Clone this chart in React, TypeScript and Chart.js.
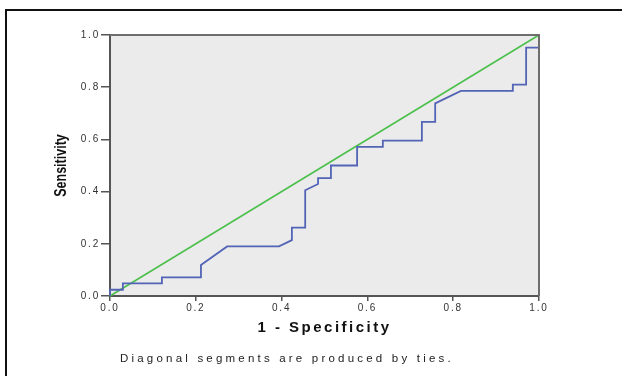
import React, { useEffect, useRef } from "react";
import { Chart, registerables } from "chart.js";

Chart.register(...registerables);

// ROC curve: 1 - specificity (x) and sensitivity (y)
const fpr = [0, 0, 0.03, 0.03, 0.121, 0.121, 0.212, 0.212, 0.273, 0.394, 0.424, 0.424, 0.455, 0.455, 0.485, 0.485, 0.515, 0.515, 0.576, 0.576, 0.636, 0.636, 0.727, 0.727, 0.758, 0.758, 0.818, 0.939, 0.939, 0.97, 0.97, 1, 1];
const tpr = [0, 0.024, 0.024, 0.048, 0.048, 0.071, 0.071, 0.119, 0.19, 0.19, 0.214, 0.262, 0.262, 0.405, 0.429, 0.452, 0.452, 0.5, 0.5, 0.571, 0.571, 0.595, 0.595, 0.667, 0.667, 0.738, 0.786, 0.786, 0.81, 0.81, 0.952, 0.952, 1];

// reference diagonal
const refX = [0, 1];
const refY = [0, 1];

const tickValues = [0, 0.2, 0.4, 0.6, 0.8, 1.0];
const tickLabels = ["0.0", "0.2", "0.4", "0.6", "0.8", "1.0"];

const xTitle = "1 - Specificity";
const yTitle = "Sensitivity";
const note = "Diagonal segments are produced by ties.";

const SPACING = "2.5px";
const LABEL_SPACING = "1.8px";

function patchScale(s: any, isY: boolean) {
  if (s.__patched) return;
  s.__patched = true;
  const origLabels = s.drawLabels;
  s.drawLabels = function (...args: any[]) {
    this.ctx.save();
    this.ctx.letterSpacing = LABEL_SPACING;
    origLabels.apply(this, args);
    this.ctx.restore();
  };
  if (isY) {
    const origTitle = s.drawTitle;
    s.drawTitle = function (...args: any[]) {
      const ctx = this.ctx;
      const cx = 62;
      ctx.save();
      ctx.letterSpacing = "0px";
      ctx.translate(cx, 0);
      ctx.scale(1.3, 1);
      ctx.translate(-cx, 0);
      origTitle.apply(this, args);
      ctx.restore();
    };
  }
}

const framePlugin = {
  id: "spssFrame",
  beforeUpdate(chart: any) {
    chart.ctx.letterSpacing = SPACING;
  },
  beforeDraw(chart: any) {
    const { ctx, chartArea } = chart;
    ctx.letterSpacing = SPACING;
    ctx.save();
    ctx.fillStyle = "#ebebeb";
    ctx.fillRect(chartArea.left, chartArea.top, chartArea.right - chartArea.left, chartArea.bottom - chartArea.top);
    ctx.restore();
  },
  afterDatasetsDraw(chart: any) {
    const { ctx, chartArea } = chart;
    ctx.save();
    ctx.strokeStyle = "#6e6e6e";
    ctx.lineWidth = 2;
    ctx.beginPath();
    ctx.moveTo(chartArea.left, chartArea.top);
    ctx.lineTo(chartArea.right, chartArea.top);
    ctx.lineTo(chartArea.right, chartArea.bottom);
    ctx.stroke();
    ctx.restore();
  },
};

export default function App() {
  const ref = useRef<HTMLCanvasElement | null>(null);

  useEffect(() => {
    if (!ref.current) return;
    const tickFont = { family: "'Liberation Sans', Arial, sans-serif", size: 10 };
    const chart = new Chart(ref.current, {
      type: "line",
      data: {
        datasets: [
          {
            label: "ROC",
            data: fpr.map((x, i) => ({ x, y: tpr[i] })),
            borderColor: "#5364b6",
            borderWidth: 1.8,
            pointRadius: 0,
            tension: 0,
            fill: false,
            clip: 4,
          },
          {
            label: "Reference",
            data: refX.map((x, i) => ({ x, y: refY[i] })),
            borderColor: "#4cc04c",
            borderWidth: 1.6,
            pointRadius: 0,
            tension: 0,
            fill: false,
            clip: 4,
          },
        ],
      },
      options: {
        animation: false,
        responsive: false,
        layout: { padding: { left: 50, top: 35, right: 83, bottom: 39 } },
        plugins: { legend: { display: false }, tooltip: { enabled: false } },
        scales: {
          x: {
            type: "linear",
            min: 0,
            max: 1,
            afterBuildTicks: (s: any) => {
              s.ticks = tickValues.map((v) => ({ value: v }));
            },
            afterFit: (s: any) => {
              s.height = 41;
              patchScale(s, false);
            },
            ticks: {
              autoSkip: false,
              maxRotation: 0,
              padding: 1,
              color: "#333",
              font: tickFont,
              callback: (_v: any, i: number) => tickLabels[i],
            },
            grid: { drawOnChartArea: false, drawTicks: true, tickLength: 5, color: "#555", lineWidth: 1.5 },
            border: { color: "#555", width: 2 },
            title: {
              display: true,
              text: xTitle,
              color: "#111",
              font: { family: "'Liberation Sans', Arial, sans-serif", size: 15, weight: "bold" },
              padding: { top: 0, bottom: 0 },
            },
          },
          y: {
            type: "linear",
            min: 0,
            max: 1,
            afterBuildTicks: (s: any) => {
              s.ticks = tickValues.map((v) => ({ value: v }));
            },
            afterFit: (s: any) => {
              s.width = 60;
              patchScale(s, true);
            },
            ticks: {
              autoSkip: false,
              padding: 1,
              color: "#333",
              font: tickFont,
              callback: (_v: any, i: number) => tickLabels[i],
            },
            grid: { drawOnChartArea: false, drawTicks: true, tickLength: 9, color: "#555", lineWidth: 1.5 },
            border: { color: "#555", width: 2 },
            title: {
              display: true,
              text: yTitle,
              color: "#111",
              font: { family: "'Liberation Sans', Arial, sans-serif", size: 12.5, weight: "bold" },
              padding: { top: 4, bottom: 0 },
            },
          },
        },
      },
      plugins: [framePlugin],
    } as any);
    return () => chart.destroy();
  }, []);

  return (
    <div style={{ position: "absolute", left: 0, top: 0, width: 622, height: 376, background: "#fff", overflow: "hidden" }}>
      <div
        style={{
          position: "absolute",
          left: 5,
          top: 9,
          width: 640,
          height: 400,
          border: "2px solid #111",
          boxSizing: "border-box",
        }}
      />
      <canvas ref={ref} width={622} height={376} style={{ position: "absolute", left: 0, top: 0 }} />
      <div
        style={{
          position: "absolute",
          left: 120,
          top: 352,
          fontFamily: "'Liberation Sans', Arial, sans-serif",
          fontSize: 11.5,
          lineHeight: "13px",
          letterSpacing: "3.2px",
          color: "#222",
          whiteSpace: "nowrap",
        }}
      >
        {note}
      </div>
    </div>
  );
}
